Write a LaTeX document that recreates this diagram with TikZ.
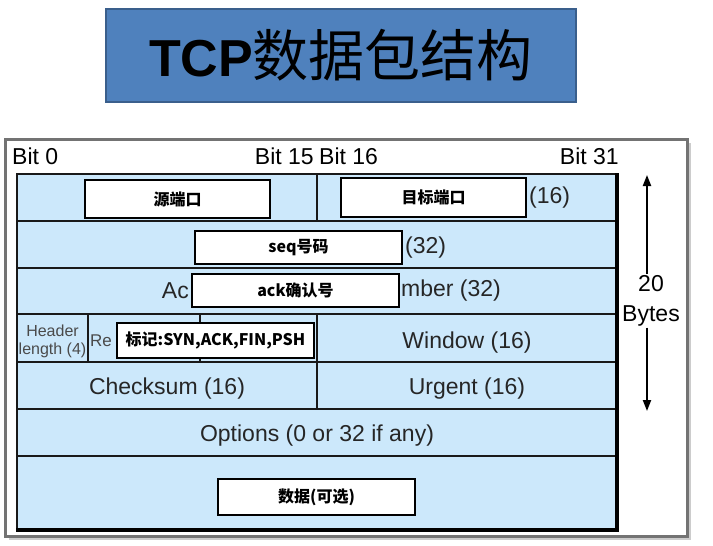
\documentclass[tikz,border=0pt]{standalone}
\usepackage{fontspec}
\setmainfont{Liberation Sans}
\newfontfamily\cjk{Noto Sans CJK SC}
\usetikzlibrary{arrows.meta}
\definecolor{cellblue}{HTML}{CCE8FB}
\definecolor{titleblue}{HTML}{4F81BD}
\definecolor{titleedge}{HTML}{3A5F8C}
\definecolor{ink}{HTML}{262626}
\definecolor{faint}{HTML}{4A4A4A}

\begin{document}
\begin{tikzpicture}[x=1pt,y=-1pt,
  cell/.style={fill=cellblue,draw=black!90,line width=2pt},
  rule/.style={draw=black!90,line width=2pt},
  field/.style={text=ink,font=\fontsize{23}{30}\selectfont,inner sep=0pt},
  small/.style={text=faint,font=\fontsize{16}{18}\selectfont,inner sep=0pt,align=center},
  tag/.style={draw,line width=2pt,fill=white,inner sep=0pt,
    font=\cjk\bfseries\fontsize{16}{18}\selectfont},
  bit/.style={font=\fontsize{23}{26}\selectfont,inner sep=0pt},
  arrow/.style={line width=2pt,-{Triangle[length=11pt,width=8pt]}}
]
\useasboundingbox (0,0) rectangle (713,546);

% title
\node[fill=titleblue,draw=titleedge,line width=2pt,minimum width=470,minimum height=93,
  inner sep=0pt] (title) at (341,55)
  {\fontsize{52}{56}\selectfont\bfseries TCP{\cjk\mdseries\fontsize{56}{60}\selectfont 数据包结构}};

% frame
\fill[black!20] (9,143) rectangle (691,540);
\fill[black!35] (7,141) rectangle (689,538);
\draw[draw=black!55,line width=3pt,fill=white] (5,139) rectangle (687,536);

% bit positions
\node[bit,anchor=base west] (b0) at (12,164) {Bit 0};
\node[bit,anchor=base east] (b15) at (314,164) {Bit 15};
\node[bit,anchor=base west] (b16) at (319,164) {Bit 16};
\node[bit,anchor=base east] (b31) at (619,164) {Bit 31};

% header grid
\filldraw[cell] (17,174) rectangle (617,529);
\foreach \y in {221,268,314,362,409,456}
  \draw[rule] (17,\y) -- (617,\y);
\draw[rule] (317,174) -- (317,221);
\draw[rule] (317,314) -- (317,409);
\draw[rule] (88,314) -- (88,362);
\draw[rule] (200,314) -- (200,362);
\draw[line width=4pt] (617,173) -- (617,530) -- (16,530);

% chinese labels
\node[tag,minimum width=185,minimum height=38] (src) at (177.5,199) {源端口};
\node[tag,minimum width=185,minimum height=39] (dst) at (433.5,197.5) {目标端口};
\node[tag,minimum width=207,minimum height=33] (seq) at (298.5,247.5) {seq号码};
\node[tag,minimum width=207,minimum height=33] (ack) at (295.5,290.5) {ack确认号};
\node[tag,minimum width=197,minimum height=35] (flag) at (215.5,340.5) {标记:SYN,ACK,FIN,PSH};
\node[tag,minimum width=197,minimum height=36] (data) at (316.5,497) {数据(可选)};

% fields (parts left uncovered)
\node[field,anchor=west] (dstport) at ([xshift=2pt]dst.east) {(16)};
\node[field,anchor=west] (seqnum) at ([xshift=2pt]seq.east) {(32)};
\node[field,anchor=east] (ackleft) at ([xshift=-2pt]ack.west) {Ac};
\node[field,anchor=west] (ackright) at ([xshift=1pt]ack.east) {mber (32)};
\node[small] (hlen) at (52.5,341) {Header\\length (4)};
\node[small,font=\fontsize{17}{19}\selectfont,anchor=east] (resv) at ([xshift=-4pt]flag.west) {Re};
\node[field] (window) at (467,343) {Window (16)};
\node[field] (checksum) at (167,389) {Checksum (16)};
\node[field] (urgent) at (467,389) {Urgent (16)};
\node[field] (options) at (317,436) {Options (0 or 32 if any)};

% size
\node[field,text=black,align=center,inner sep=1pt] (bytes) at (651,301) {20\\Bytes};
\coordinate (top) at (647,175);
\coordinate (bot) at (647,411);
\draw[arrow] (bytes.north -| top) -- (top);
\draw[arrow] (bytes.south -| bot) -- (bot);
\end{tikzpicture}
\end{document}
